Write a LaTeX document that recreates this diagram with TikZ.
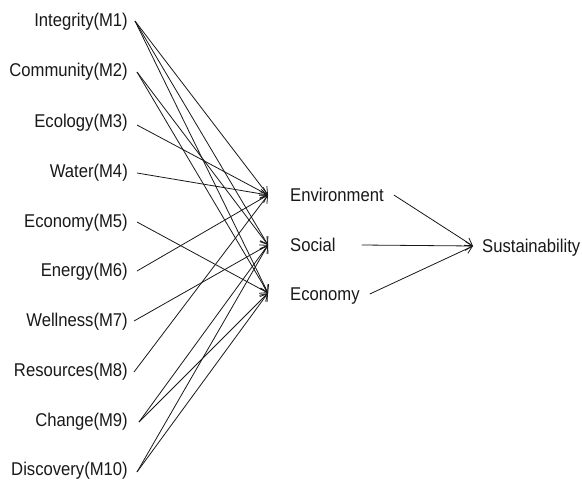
\documentclass[tikz,border=0pt]{standalone}
\usepackage{fontspec}
\setmainfont{Liberation Sans}[FakeStretch=0.9]
\usetikzlibrary{arrows.meta}
\begin{document}
\begin{tikzpicture}[x=1pt,y=-1pt,
  lab/.style={inner sep=0pt, font=\fontsize{18.5}{20}\selectfont, text height=13.3pt, text depth=0pt, text=black!90},
  left/.style={lab, anchor=east},
  mid/.style={lab, anchor=west},
  conn/.style={draw=black!90, line width=0.8pt, -{Straight Barb[length=7pt,width=9pt]}}]
\useasboundingbox (0,0) rectangle (582,482);
\fill[white] (0,0) rectangle (582,482);
% left labels
\node[left] (m1)  at (128,20)  {Integrity(M1)};
\node[left] (m2)  at (128,70)  {Community(M2)};
\node[left] (m3)  at (128,121) {Ecology(M3)};
\node[left] (m4)  at (128,171) {Water(M4)};
\node[left] (m5)  at (128,221) {Economy(M5)};
\node[left] (m6)  at (128,270) {Energy(M6)};
\node[left] (m7)  at (128,320) {Wellness(M7)};
\node[left] (m8)  at (128,370) {Resources(M8)};
\node[left] (m9)  at (128,420) {Change(M9)};
\node[left] (m10) at (128,469) {Discovery(M10)};
% middle labels
\node[mid] (env) at (290,195) {Environment};
\node[mid] (soc) at (290,245) {Social};
\node[mid] (eco) at (290,294) {Economy};
% right label
\node[mid] (sus) at (482,246) {Sustainability};
% connectors to middle
\begin{scope}[every path/.style={conn}]
\path ([xshift=7,yshift=-1]m1.east) -- ([xshift=-22]env.west);
\path ([xshift=7,yshift=-1]m1.east) -- ([xshift=-22]soc.west);
\path ([xshift=7,yshift=-1]m1.east) -- ([xshift=-22,yshift=1]eco.west);
\path ([xshift=9,yshift=-2]m2.east) -- ([xshift=-22]soc.west);
\path ([xshift=9,yshift=-2]m2.east) -- ([xshift=-22,yshift=1]eco.west);
\path ([xshift=9,yshift=-4]m3.east) -- ([xshift=-22]env.west);
\path ([xshift=9,yshift=-2]m4.east) -- ([xshift=-22]env.west);
\path ([xshift=9,yshift=-1]m5.east) -- ([xshift=-22,yshift=1]eco.west);
\path ([xshift=9,yshift=-1]m6.east) -- ([xshift=-22]env.west);
\path ([xshift=6,yshift=-1]m7.east) -- ([xshift=-22]soc.west);
\path ([xshift=6,yshift=-2]m8.east) -- ([xshift=-22]env.west);
\path ([xshift=11,yshift=-2]m9.east) -- ([xshift=-22]soc.west);
\path ([xshift=11,yshift=-2]m9.east) -- ([xshift=-22,yshift=1]eco.west);
\path ([xshift=9,yshift=-3]m10.east) -- ([xshift=-22]soc.west);
\path ([xshift=9,yshift=-3]m10.east) -- ([xshift=-22,yshift=1]eco.west);
% connectors to right
\path ([xshift=10]env.east) -- ([xshift=-9]sus.west);
\path ([xshift=26]soc.east) -- ([xshift=-9]sus.west);
\path ([xshift=10]eco.east) -- ([xshift=-9]sus.west);
\end{scope}
\end{tikzpicture}
\end{document}
